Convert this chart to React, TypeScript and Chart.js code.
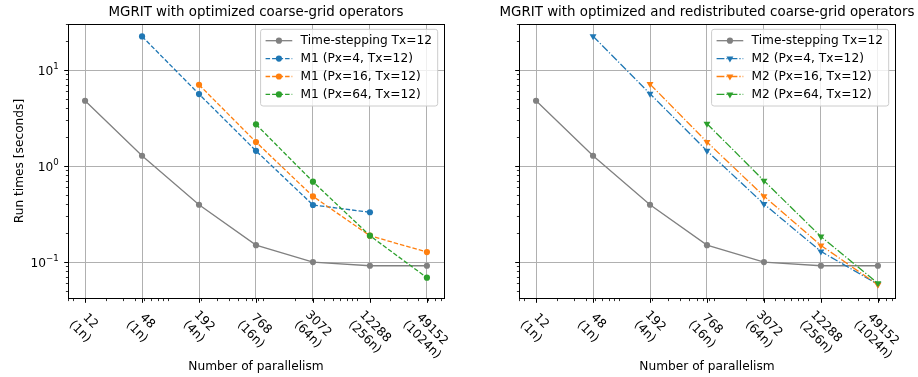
import React, { useEffect, useRef } from 'react';
import { Chart, registerables } from 'chart.js';

Chart.register(...registerables);

// ---------------- data ----------------
const parallelism = [12, 48, 192, 768, 3072, 12288, 49152];
const nodeLabels = ['(1n)', '(1n)', '(4n)', '(16n)', '(64n)', '(256n)', '(1024n)'];

const timeStepping = [4.79, 1.28, 0.395, 0.15, 0.1, 0.0915, 0.0915];

const m1Px4 = [null, 22.4, 5.62, 1.44, 0.393, 0.33, null];
const m1Px16 = [null, null, 7.03, 1.78, 0.483, 0.188, 0.127];
const m1Px64 = [null, null, null, 2.72, 0.687, 0.188, 0.0687];

const m2Px4 = [null, 22.5, 5.66, 1.44, 0.402, 0.129, 0.0586];
const m2Px16 = [null, null, 7.14, 1.78, 0.486, 0.149, 0.058];
const m2Px64 = [null, null, null, 2.76, 0.703, 0.184, 0.06];

const yTickValues = [0.1, 1, 10];
const yTickExponents = ['\u22121', '0', '1'];

const X_MIN = 7.92;
const X_MAX = 74500;
const Y_MIN = 0.0422;
const Y_MAX = 30.2;

// ---------------- styles ----------------
const FONT = '"DejaVu Sans", "Noto Sans", sans-serif';
const GRAY = '#808080';
const BLUE = '#1f77b4';
const ORANGE = '#ff7f0e';
const GREEN = '#2ca02c';
const DASHED = [4.5, 2];
const DASHDOT = [7.8, 2, 1.2, 2];
const CIRCLE_R = 3.1;
const TRI_R = 4;

function series(values: (number | null)[]) {
  const out: { x: number; y: number }[] = [];
  parallelism.forEach((x, i) => {
    const v = values[i];
    if (v != null) out.push({ x, y: v });
  });
  return out;
}

function minorValues(min: number, max: number) {
  const out: number[] = [];
  for (let e = -3; e <= 6; e++) {
    for (let s = 2; s <= 9; s++) {
      const v = s * Math.pow(10, e);
      if (v >= min && v <= max) out.push(v);
    }
  }
  return out;
}

type Marker = 'circle' | 'tri';

function makeDataset(label: string, values: (number | null)[], color: string, dash: number[], marker: Marker, order: number) {
  return {
    label,
    data: series(values),
    borderColor: color,
    backgroundColor: color,
    borderWidth: 1.3,
    borderDash: dash,
    pointStyle: marker === 'circle' ? 'circle' : 'triangle',
    pointRotation: marker === 'circle' ? 0 : 180,
    pointRadius: marker === 'circle' ? CIRCLE_R : TRI_R,
    pointBackgroundColor: color,
    pointBorderColor: color,
    pointBorderWidth: 0,
    tension: 0,
    order,
    _marker: marker,
  } as any;
}

function drawMarker(ctx: CanvasRenderingContext2D, marker: Marker, x: number, y: number, color: string) {
  ctx.save();
  ctx.fillStyle = color;
  ctx.beginPath();
  if (marker === 'circle') {
    ctx.arc(x, y, CIRCLE_R, 0, Math.PI * 2);
  } else {
    const r = TRI_R;
    ctx.moveTo(x, y + r);
    ctx.lineTo(x - r * 0.866, y - r * 0.5);
    ctx.lineTo(x + r * 0.866, y - r * 0.5);
    ctx.closePath();
  }
  ctx.fill();
  ctx.restore();
}

interface PanelCfg {
  title: string;
  datasets: any[];
  showYLabels: boolean;
  padLeft: number;
  padRight: number;
  canvasLeft: number;
}

function overlayPlugin(cfg: PanelCfg) {
  return {
    id: 'overlay',
    afterDraw(chart: any) {
      const ctx: CanvasRenderingContext2D = chart.ctx;
      const { left, right, top, bottom } = chart.chartArea;
      const xs = chart.scales.x;
      const ys = chart.scales.y;
      ctx.save();

      // ticks
      ctx.strokeStyle = '#000';
      const tick = (x1: number, y1: number, x2: number, y2: number, w: number) => {
        ctx.lineWidth = w;
        ctx.beginPath();
        ctx.moveTo(x1, y1);
        ctx.lineTo(x2, y2);
        ctx.stroke();
      };
      const B = Math.round(bottom) + 0.5;
      const L = Math.round(left) + 0.5;
      parallelism.forEach((v) => {
        const px = Math.round(xs.getPixelForValue(v)) + 0.5;
        tick(px, B, px, B + 4.3, 1);
      });
      minorValues(xs.min, xs.max).forEach((v) => {
        const px = Math.round(xs.getPixelForValue(v)) + 0.5;
        tick(px, B, px, B + 2.6, 0.8);
      });
      yTickValues.forEach((v) => {
        const py = Math.round(ys.getPixelForValue(v)) + 0.5;
        tick(L, py, L - 4.3, py, 1);
      });
      minorValues(ys.min, ys.max).forEach((v) => {
        const py = Math.round(ys.getPixelForValue(v)) + 0.5;
        tick(L, py, L - 2.6, py, 0.8);
      });

      // frame
      ctx.lineWidth = 1;
      ctx.strokeStyle = '#000';
      ctx.strokeRect(L, Math.round(top) + 0.5, Math.round(right) - Math.round(left), Math.round(bottom) - Math.round(top));

      // x tick labels, rotated 45deg clockwise
      const fs = 12.2;
      const lh = fs * 1.2;
      ctx.fillStyle = '#000';
      ctx.font = `${fs}px ${FONT}`;
      parallelism.forEach((v, i) => {
        const lines = [String(v), nodeLabels[i]];
        const W = Math.max(...lines.map((t) => ctx.measureText(t).width));
        const H = lh + fs * 1.16;
        const bb = (W + H) * Math.SQRT1_2;
        const cx = xs.getPixelForValue(v);
        const cy = bottom + 9.5 + bb / 2;
        ctx.save();
        ctx.translate(cx, cy);
        ctx.rotate(Math.PI / 4);
        ctx.textAlign = 'center';
        ctx.textBaseline = 'middle';
        ctx.fillText(lines[0], 0, -lh / 2);
        ctx.fillText(lines[1], 0, lh / 2);
        ctx.restore();
      });

      // y tick labels
      if (cfg.showYLabels) {
        yTickValues.forEach((v, i) => {
          const py = ys.getPixelForValue(v);
          const exp = yTickExponents[i];
          ctx.font = `8.6px ${FONT}`;
          const we = ctx.measureText(exp).width;
          ctx.font = `${fs}px ${FONT}`;
          const wb = ctx.measureText('10').width;
          const xr = left - 9.3;
          ctx.textAlign = 'left';
          ctx.textBaseline = 'alphabetic';
          ctx.fillText('10', xr - we - wb, py + 4.8);
          ctx.font = `8.6px ${FONT}`;
          ctx.fillText(exp, xr - we, py - 0.6);
        });
        // y label
        ctx.save();
        ctx.font = `${fs}px ${FONT}`;
        ctx.translate(19.5, (top + bottom) / 2);
        ctx.rotate(-Math.PI / 2);
        ctx.textAlign = 'center';
        ctx.textBaseline = 'middle';
        ctx.fillText('Run times [seconds]', 0, 0);
        ctx.restore();
      }

      // x label
      ctx.font = `${fs}px ${FONT}`;
      ctx.textAlign = 'center';
      ctx.textBaseline = 'alphabetic';
      ctx.fillText('Number of parallelism', (left + right) / 2, 369.5);

      // title
      ctx.font = `13.4px ${FONT}`;
      ctx.fillText(cfg.title, (left + right) / 2, 16);

      // legend
      ctx.font = `${fs}px ${FONT}`;
      const ds = chart.data.datasets;
      const tw = Math.max(...ds.map((d: any) => ctx.measureText(d.label).width));
      const boxW = 40 + tw + 5.7;
      const boxH = 76.7;
      const bx = right - 6.3 - boxW;
      const by = top + 5.3;
      ctx.save();
      ctx.beginPath();
      (ctx as any).roundRect(bx, by, boxW, boxH, 2.5);
      ctx.fillStyle = 'rgba(255,255,255,0.8)';
      ctx.fill();
      ctx.strokeStyle = '#cccccc';
      ctx.lineWidth = 1;
      ctx.stroke();
      ctx.restore();
      ds.forEach((d: any, i: number) => {
        const ry = by + 11.4 + i * 17.9;
        const h0 = bx + 5;
        const h1 = bx + 31.7;
        ctx.save();
        ctx.strokeStyle = d.borderColor;
        ctx.lineWidth = d.borderWidth;
        ctx.setLineDash(d.borderDash || []);
        ctx.beginPath();
        ctx.moveTo(h0, ry);
        ctx.lineTo(h1, ry);
        ctx.stroke();
        ctx.restore();
        drawMarker(ctx, d._marker, (h0 + h1) / 2, ry, d.borderColor);
        ctx.fillStyle = '#000';
        ctx.textAlign = 'left';
        ctx.textBaseline = 'middle';
        ctx.fillText(d.label, bx + 40, ry + 0.5);
      });

      ctx.restore();
    },
  };
}

function buildConfig(cfg: PanelCfg): any {
  return {
    type: 'line',
    data: { datasets: cfg.datasets },
    options: {
      animation: false,
      responsive: false,
      devicePixelRatio: 1,
      events: [],
      layout: { padding: { left: cfg.padLeft, right: cfg.padRight, top: 24, bottom: 79 } },
      plugins: {
        legend: { display: false },
        title: { display: false },
        tooltip: { enabled: false },
      },
      scales: {
        x: {
          type: 'logarithmic',
          min: X_MIN,
          max: X_MAX,
          bounds: 'data',
          afterBuildTicks: (s: any) => {
            s.ticks = parallelism.map((v) => ({ value: v }));
          },
          afterFit: (s: any) => {
            s.height = 0;
          },
          ticks: { display: false },
          grid: { color: '#b0b0b0', lineWidth: 1, drawTicks: false },
          border: { display: false },
        },
        y: {
          type: 'logarithmic',
          min: Y_MIN,
          max: Y_MAX,
          bounds: 'data',
          afterBuildTicks: (s: any) => {
            s.ticks = yTickValues.map((v) => ({ value: v }));
          },
          afterFit: (s: any) => {
            s.width = 0;
          },
          ticks: { display: false },
          grid: { color: '#b0b0b0', lineWidth: 1, drawTicks: false },
          border: { display: false },
        },
      },
    },
    plugins: [overlayPlugin(cfg)],
  };
}

const leftPanel: PanelCfg = {
  title: 'MGRIT with optimized coarse-grid operators',
  datasets: [
    makeDataset('Time-stepping Tx=12', timeStepping, GRAY, [], 'circle', 3),
    makeDataset('M1 (Px=4, Tx=12)', m1Px4, BLUE, DASHED, 'circle', 2),
    makeDataset('M1 (Px=16, Tx=12)', m1Px16, ORANGE, DASHED, 'circle', 1),
    makeDataset('M1 (Px=64, Tx=12)', m1Px64, GREEN, DASHED, 'circle', 0),
  ],
  showYLabels: true,
  padLeft: 68,
  padRight: 15,
  canvasLeft: 0,
};

const rightPanel: PanelCfg = {
  title: 'MGRIT with optimized and redistributed coarse-grid operators',
  datasets: [
    makeDataset('Time-stepping Tx=12', timeStepping, GRAY, [], 'circle', 3),
    makeDataset('M2 (Px=4, Tx=12)', m2Px4, BLUE, DASHDOT, 'tri', 2),
    makeDataset('M2 (Px=16, Tx=12)', m2Px16, ORANGE, DASHDOT, 'tri', 1),
    makeDataset('M2 (Px=64, Tx=12)', m2Px64, GREEN, DASHDOT, 'tri', 0),
  ],
  showYLabels: false,
  padLeft: 60,
  padRight: 23,
  canvasLeft: 459,
};

function Panel({ cfg }: { cfg: PanelCfg }) {
  const ref = useRef<HTMLCanvasElement | null>(null);
  useEffect(() => {
    if (!ref.current) return;
    const chart = new Chart(ref.current, buildConfig(cfg));
    return () => chart.destroy();
  }, [cfg]);
  return (
    <canvas
      ref={ref}
      width={459}
      height={377}
      style={{ position: 'absolute', left: cfg.canvasLeft, top: 0, width: 459, height: 377 }}
    />
  );
}

export default function App() {
  return (
    <div style={{ position: 'fixed', left: 0, top: 0, width: 918, height: 377, background: '#fff' }}>
      <Panel cfg={leftPanel} />
      <Panel cfg={rightPanel} />
    </div>
  );
}
